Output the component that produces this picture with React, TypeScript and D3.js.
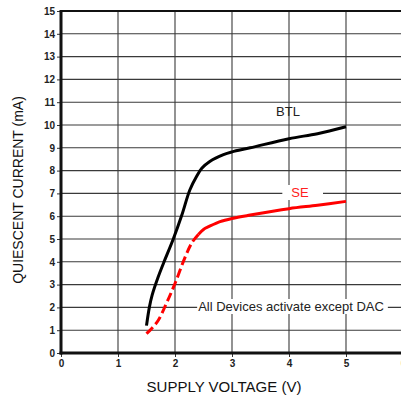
import React, { useEffect, useRef } from "react";
import * as d3 from "d3";

// supply voltage (V) / quiescent current (mA)
const btlVolts = [1.5, 1.55, 1.6, 1.7, 1.8, 1.97, 2.12, 2.26, 2.38, 2.47, 2.61, 2.85, 3.0, 3.32, 4.0, 4.5, 5.0];
const btlCurrent = [1.2, 2.0, 2.55, 3.3, 3.95, 5.0, 6.05, 7.15, 7.75, 8.1, 8.4, 8.7, 8.82, 9.0, 9.4, 9.62, 9.92];

const seVolts = [1.5, 1.6, 1.71, 1.85, 2.0, 2.18, 2.3, 2.41, 2.5, 2.6, 2.79, 3.0, 3.32, 4.0, 4.5, 5.0];
const seCurrent = [0.85, 1.1, 1.45, 2.18, 3.05, 4.22, 4.85, 5.2, 5.42, 5.55, 5.76, 5.9, 6.05, 6.33, 6.48, 6.65];
const seDashEnd = 2.41; // SE trace is dashed below this voltage

const xTicks = [0, 1, 2, 3, 4, 5, 6];
const yTicks = d3.range(0, 16);

const font = "'Liberation Sans', Arial, sans-serif";

export default function App() {
  const ref = useRef<SVGSVGElement>(null);

  useEffect(() => {
    const width = 401,
      height = 401;
    const svg = d3.select(ref.current);
    svg.selectAll("*").remove();

    const x = d3.scaleLinear().domain([0, 6]).range([61, 403]);
    const y = d3.scaleLinear().domain([0, 15]).range([353, 11]);

    svg.append("rect").attr("width", width).attr("height", height).attr("fill", "#fff");

    // grid
    const grid = svg.append("g").attr("stroke", "#3a3a3a").attr("stroke-width", 1.1);
    yTicks.slice(1, -1).forEach((t) => {
      grid.append("line").attr("x1", x(0)).attr("x2", width).attr("y1", y(t)).attr("y2", y(t));
    });
    xTicks.slice(1).forEach((t) => {
      grid.append("line").attr("x1", x(t)).attr("x2", x(t)).attr("y1", y(15)).attr("y2", y(0));
    });

    // axes
    const yAxis = svg
      .append("g")
      .attr("transform", `translate(${x(0)},0)`)
      .call(d3.axisLeft(y).tickValues(yTicks).tickSize(4).tickPadding(2).tickFormat(d3.format("d")));
    const xAxis = svg
      .append("g")
      .attr("transform", `translate(0,${y(0)})`)
      .call(d3.axisBottom(x).tickValues(xTicks).tickSize(4).tickPadding(3).tickFormat(d3.format("d")));
    [yAxis, xAxis].forEach((a) => {
      a.select(".domain").remove();
      a.selectAll("text")
        .attr("font-family", font)
        .attr("font-weight", "bold")
        .attr("font-size", 10)
        .attr("fill", "#222");
      a.selectAll(".tick line").attr("stroke", "#333");
    });

    svg.append("line").attr("x1", x(0)).attr("x2", width).attr("y1", y(15)).attr("y2", y(15))
      .attr("stroke", "#111").attr("stroke-width", 2);
    svg.append("line").attr("x1", x(0)).attr("x2", x(0)).attr("y1", y(15) - 1).attr("y2", y(0) + 1.5)
      .attr("stroke", "#111").attr("stroke-width", 3);
    svg.append("line").attr("x1", x(0) - 1.5).attr("x2", width).attr("y1", y(0)).attr("y2", y(0))
      .attr("stroke", "#111").attr("stroke-width", 3);

    // labels with white background
    const label = (txt: string, cx: number, by: number, size: number, color: string, padL: number, padR: number) => {
      const g = svg.append("g");
      const t = g
        .append("text")
        .attr("x", cx)
        .attr("y", by)
        .attr("text-anchor", "middle")
        .attr("font-family", font)
        .attr("font-size", size)
        .attr("fill", color)
        .text(txt);
      const b = (t.node() as SVGTextElement).getBBox();
      g.insert("rect", "text")
        .attr("x", b.x - padL)
        .attr("y", b.y)
        .attr("width", b.width + padL + padR)
        .attr("height", b.height)
        .attr("fill", "#fff");
    };
    label("All Devices activate except DAC", 291, 311, 13, "#222", 1, 4);
    label("SE", 300, 197, 13, "#ff2020", 9, 14);

    svg.append("text")
      .attr("x", 288)
      .attr("y", 116)
      .attr("text-anchor", "middle")
      .attr("font-family", font)
      .attr("font-size", 13)
      .attr("fill", "#222")
      .text("BTL");

    // traces
    const line = d3
      .line<[number, number]>()
      .x((d) => x(d[0]))
      .y((d) => y(d[1]))
      .curve(d3.curveCatmullRom.alpha(0.5));

    const btl: [number, number][] = btlVolts.map((v, i) => [v, btlCurrent[i]]);
    const se: [number, number][] = seVolts.map((v, i) => [v, seCurrent[i]]);

    svg.append("path").datum(btl).attr("fill", "none").attr("stroke", "#000")
      .attr("stroke-width", 3).attr("d", line);
    svg.append("path").datum(se.filter((d) => d[0] <= seDashEnd)).attr("fill", "none")
      .attr("stroke", "#ff0000").attr("stroke-width", 3).attr("stroke-dasharray", "9,4").attr("d", line);
    svg.append("path").datum(se.filter((d) => d[0] >= seDashEnd)).attr("fill", "none")
      .attr("stroke", "#ff0000").attr("stroke-width", 3).attr("d", line);

    // axis titles
    svg.append("text")
      .attr("x", 224)
      .attr("y", 392)
      .attr("text-anchor", "middle")
      .attr("font-family", font)
      .attr("font-size", 15)
      .attr("fill", "#111")
      .text("SUPPLY VOLTAGE (V)");
    svg.append("text")
      .attr("transform", "translate(23,190) rotate(-90)")
      .attr("text-anchor", "middle")
      .attr("font-family", font)
      .attr("font-size", 14)
      .attr("fill", "#111")
      .text("QUIESCENT CURRENT (mA)");
  }, []);

  return (
    <svg
      ref={ref}
      width={401}
      height={401}
      style={{ position: "absolute", left: 0, top: 0, display: "block" }}
    />
  );
}
